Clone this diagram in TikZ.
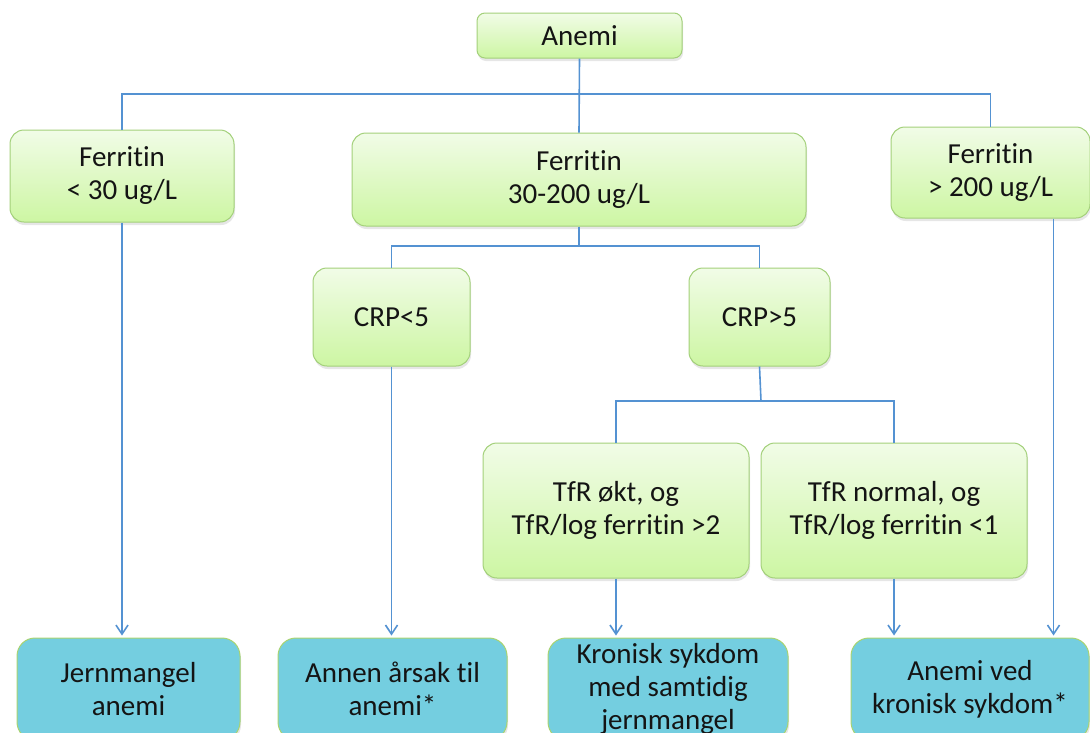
\documentclass[tikz,border=0pt]{standalone}
\usepackage{fontspec}
\setmainfont{Carlito}[Ligatures=NoCommon]
\usepackage{xcolor}
\usepackage{tikz}
\usetikzlibrary{arrows.meta, positioning, calc, shadows}
\definecolor{BoxTop}{RGB}{241, 252, 231}
\definecolor{BoxBottom}{RGB}{205, 246, 163}
\definecolor{BoxEdge}{RGB}{163, 208, 122}
\definecolor{ResultFill}{RGB}{116, 206, 224}
\definecolor{ResultEdge}{RGB}{170, 212, 112}
\definecolor{LinkBlue}{RGB}{84, 146, 210}
\definecolor{TextDark}{RGB}{20, 20, 20}

\tikzset{
  testbox/.style={
    draw=BoxEdge, line width=1pt, rounded corners=14pt,
    top color=BoxTop, bottom color=BoxBottom,
    align=center, text=TextDark, inner sep=0pt,
    font=\fontsize{29}{33}\selectfont,
    drop shadow={shadow xshift=1pt, shadow yshift=-3pt, opacity=0.2}
  },
  resultbox/.style={
    testbox, fill=ResultFill, top color=ResultFill, bottom color=ResultFill,
    draw=ResultEdge, rounded corners=18pt
  },
  link/.style={draw=LinkBlue, line width=1.6pt},
  arrowlink/.style={link, shorten >=2pt, -{Straight Barb[length=9pt, width=12pt]}}
}

\begin{document}
\begin{tikzpicture}[x=1pt, y=-1pt]
        \useasboundingbox (0,0) rectangle (1090,732);
        \clip (0,0) rectangle (1090,732);

        % top level
        \node[testbox, minimum width=205pt, minimum height=45pt, rounded corners=8pt]
          (anemi) at (579.5,35.5) {Anemi};

        % ferritin levels
        \node[testbox, minimum width=224pt, minimum height=92pt]
          (flow) at (122,176) {Ferritin\\< 30 ug/L};
        \node[testbox, minimum width=454pt, minimum height=93pt]
          (fmid) at (579,179.5) {Ferritin\\30-200 ug/L};
        \node[testbox, minimum width=199pt, minimum height=91pt]
          (fhigh) at (990.5,172.5) {Ferritin\\> 200 ug/L};

        % CRP
        \node[testbox, minimum width=157pt, minimum height=98pt]
          (crplo) at (391.5,317) {CRP<5};
        \node[testbox, minimum width=141pt, minimum height=98pt]
          (crphi) at (759.5,317) {CRP>5};

        % TfR
        \node[testbox, minimum width=266pt, minimum height=135pt]
          (tfrhi) at (616,510.5) {TfR økt, og\\TfR/log ferritin >2};
        \node[testbox, minimum width=266pt, minimum height=135pt]
          (tfrlo) at (894,510.5) {TfR normal, og\\TfR/log ferritin <1};

        % results
        \node[resultbox, minimum width=223pt, minimum height=102pt]
          (jern) at (128.5,689) {Jernmangel\\anemi};
        \node[resultbox, minimum width=229pt, minimum height=102pt]
          (annen) at (392.5,689) {Annen årsak til\\anemi*};
        \node[resultbox, minimum width=240pt, minimum height=102pt]
          (kron) at (668,689) {Kronisk sykdom\\med samtidig\\jernmangel};
        \node[resultbox, minimum width=238pt, minimum height=102pt]
          (akron) at (970,689) {Anemi ved\\kronisk sykdom*};

        % connectors
        \coordinate (bus) at (579.5,94);
        \coordinate (split1) at (579,246);
        \coordinate (split2) at (761,401);
        \draw[link] (anemi.south) -- (fmid.north);
        \draw[link] (flow.north) |- (bus) -| (fhigh.north);
        \draw[link] (fmid.south) -- (split1);
        \draw[link] (crplo.north) |- (split1) -| (crphi.north);
        \draw[link] (crphi.south) -- (split2);
        \draw[link] (tfrhi.north) |- (split2) -| (tfrlo.north);

        \draw[arrowlink] (flow.south) -- (flow.south |- jern.north);
        \draw[arrowlink] (crplo.south) -- (crplo.south |- annen.north);
        \draw[arrowlink] (tfrhi.south) -- (tfrhi.south |- kron.north);
        \draw[arrowlink] (tfrlo.south) -- (tfrlo.south |- akron.north);
        \draw[arrowlink] ([xshift=63pt]fhigh.south) -- ([xshift=63pt]fhigh.south |- akron.north);
      \end{tikzpicture}
\end{document}
